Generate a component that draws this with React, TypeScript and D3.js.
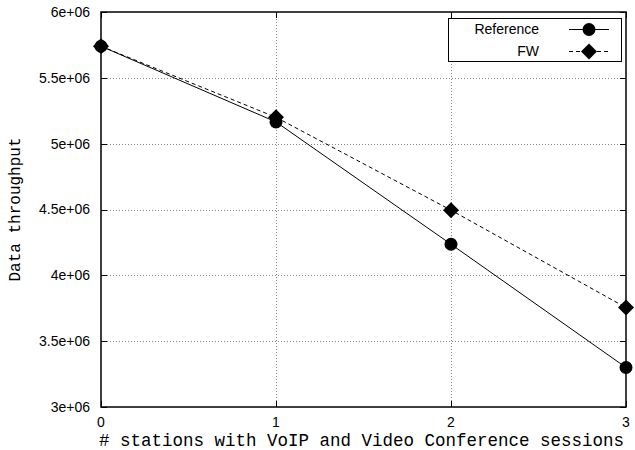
import React from 'react';
import * as d3 from 'd3';

// values
const stations = [0, 1, 2, 3];
const referenceThroughput = [5.74e6, 5.165e6, 4.236e6, 3.3e6];
const fwThroughput = [5.74e6, 5.2e6, 4.495e6, 3.755e6];
const yTicks = [3e6, 3.5e6, 4e6, 4.5e6, 5e6, 5.5e6, 6e6];
const yTickLabels = ['3e+06', '3.5e+06', '4e+06', '4.5e+06', '5e+06', '5.5e+06', '6e+06'];
const seriesNames = ['Reference', 'FW'];

const W = 635;
const H = 450;
const margin = { left: 101, right: 9, top: 12, bottom: 43 };

const sans = '"Liberation Sans", Arial, sans-serif';
const mono = '"Liberation Mono", "Courier New", monospace';

function diamond(cx: number, cy: number, r: number) {
  return `M${cx},${cy - r}L${cx + r},${cy}L${cx},${cy + r}L${cx - r},${cy}Z`;
}

export default function App() {
  const x = d3.scaleLinear().domain([0, 3]).range([margin.left, W - margin.right]);
  const y = d3.scaleLinear().domain([3e6, 6e6]).range([H - margin.bottom, margin.top]);
  const x0 = x.range()[0], x1 = x.range()[1];
  const y0 = y.range()[0], y1 = y.range()[1];

  const line = d3.line<number>()
    .x((d, i) => x(stations[i]))
    .y(d => y(d));

  const tick = 6;

  // legend
  const lg = { x: 448, y: 18, w: 173, h: 43 };
  const rowY = [29.5, 51.5];

  return (
    <svg width={W} height={H} style={{ position: 'absolute', left: 0, top: 0, background: '#fff' }}>
      {/* grid */}
      <g stroke="#888" strokeWidth={1} strokeDasharray="1,2">
        {yTicks.slice(1, -1).map(t => (
          <line key={'gy' + t} x1={x0} x2={x1} y1={Math.round(y(t)) + 0.5} y2={Math.round(y(t)) + 0.5} />
        ))}
        {stations.slice(1, -1).map(s => (
          <line key={'gx' + s} x1={Math.round(x(s)) + 0.5} x2={Math.round(x(s)) + 0.5} y1={y0} y2={y1} />
        ))}
      </g>

      {/* ticks, mirrored on all sides */}
      <g stroke="#000" strokeWidth={1}>
        {yTicks.map(t => {
          const yy = Math.round(y(t)) + 0.5;
          return (
            <g key={'ty' + t}>
              <line x1={x0} x2={x0 + tick} y1={yy} y2={yy} />
              <line x1={x1} x2={x1 - tick} y1={yy} y2={yy} />
            </g>
          );
        })}
        {stations.map(s => {
          const xx = Math.round(x(s)) + 0.5;
          return (
            <g key={'tx' + s}>
              <line x1={xx} x2={xx} y1={y0} y2={y0 - tick} />
              <line x1={xx} x2={xx} y1={y1} y2={y1 + tick} />
            </g>
          );
        })}
      </g>

      {/* tick labels */}
      <g fontFamily={sans} fontSize={14} fill="#000">
        {yTicks.map((t, i) => (
          <text key={'ly' + t} x={x0 - 11} y={y(t)} dy="0.35em" textAnchor="end">{yTickLabels[i]}</text>
        ))}
        {stations.map(s => (
          <text key={'lx' + s} x={x(s)} y={y0 + 15} dy="0.35em" textAnchor="middle">{s}</text>
        ))}
      </g>

      {/* axis titles */}
      <text x={W / 2 + 44} y={H - 4} fontFamily={mono} fontSize={17.5} textAnchor="middle" fill="#000">
        # stations with VoIP and Video Conference sessions
      </text>
      <text transform={`translate(20,${(y0 + y1) / 2}) rotate(-90)`} fontFamily={mono} fontSize={16}
        textAnchor="middle" fill="#000">
        Data throughput
      </text>

      {/* series */}
      <path d={line(referenceThroughput) ?? ''} fill="none" stroke="#000" strokeWidth={1} />
      <path d={line(fwThroughput) ?? ''} fill="none" stroke="#000" strokeWidth={1} strokeDasharray="4,3" />
      {referenceThroughput.map((v, i) => (
        <circle key={'c' + i} cx={x(stations[i])} cy={y(v)} r={6.5} fill="#000" />
      ))}
      {fwThroughput.map((v, i) => (
        <path key={'d' + i} d={diamond(x(stations[i]), y(v), 8)} fill="#000" />
      ))}

      {/* border */}
      <rect x={x0} y={y1} width={x1 - x0} height={y0 - y1} fill="none" stroke="#000" strokeWidth={1.5} />

      {/* legend */}
      <rect x={lg.x + 0.5} y={lg.y + 0.5} width={lg.w} height={lg.h} fill="#fff" stroke="#000" strokeWidth={1} />
      {seriesNames.map((name, i) => (
        <g key={name}>
          <text x={539} y={rowY[i]} dy="0.35em" textAnchor="end" fontFamily={sans} fontSize={14} fill="#000">{name}</text>
          <line x1={569} x2={609} y1={rowY[i]} y2={rowY[i]} stroke="#000" strokeWidth={1}
            strokeDasharray={i === 1 ? '4,3' : undefined} />
          {i === 0
            ? <circle cx={589} cy={rowY[i]} r={6.5} fill="#000" />
            : <path d={diamond(589, rowY[i], 8)} fill="#000" />}
        </g>
      ))}
    </svg>
  );
}
